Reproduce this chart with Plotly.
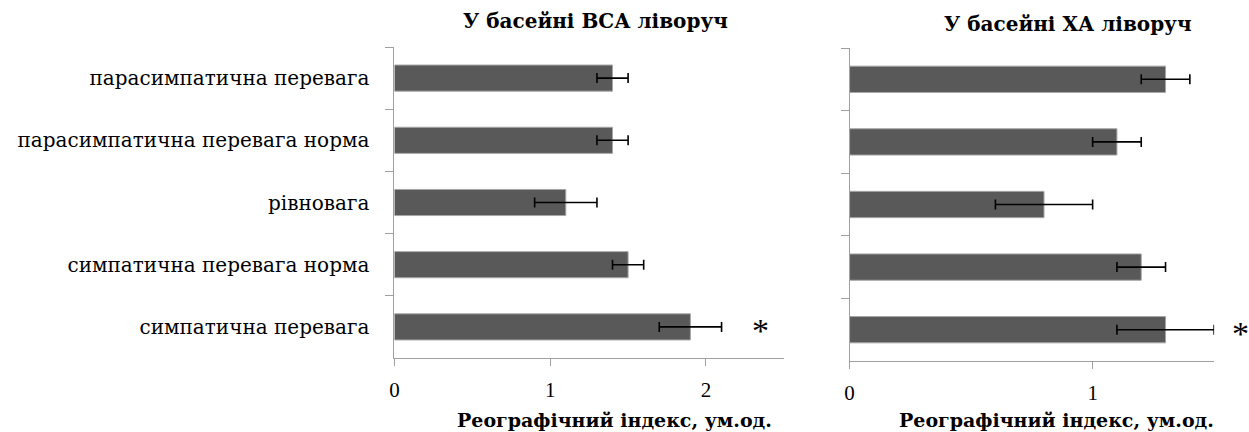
import plotly.graph_objects as go

# Autonomic balance groups, listed top to bottom
categories = [
    "парасимпатична перевага",
    "парасимпатична перевага норма",
    "рівновага",
    "симпатична перевага норма",
    "симпатична перевага",
]

# Rheographic index (arbitrary units) with standard errors
vsa_values = [1.4, 1.4, 1.1, 1.5, 1.9]
vsa_errors = [0.1, 0.1, 0.2, 0.1, 0.2]

xa_values = [1.3, 1.1, 0.8, 1.2, 1.3]
xa_errors = [0.1, 0.1, 0.2, 0.1, 0.2]

titles = ["У басейні ВСА ліворуч", "У басейні ХА ліворуч"]
x_title = "Реографічний індекс, ум.од."
significant = "симпатична перевага"

W, H = 1249, 432
SERIF = "Liberation Serif"
CYR = "DejaVu Serif"
BAR = "#595959"
AXIS = "#a0a0a0"

fig = go.Figure()

for i, (vals, errs) in enumerate([(vsa_values, vsa_errors), (xa_values, xa_errors)]):
    fig.add_trace(go.Bar(
        x=vals, y=categories, orientation="h",
        marker=dict(color=BAR, line=dict(color="#a6a6a6", width=1)),
        error_x=dict(type="data", array=errs, color="black", thickness=1.6, width=5),
        xaxis="x" if i == 0 else "x2", yaxis="y" if i == 0 else "y2",
        showlegend=False, hoverinfo="skip",
    ))

x_common = dict(
    showline=True, linecolor=AXIS, linewidth=1, showgrid=False, zeroline=False,
    ticks="outside", ticklen=7, tickcolor=AXIS, dtick=1, tick0=0,
    tickfont=dict(family=SERIF, size=21, color="black"), ticklabelstandoff=6,
)
y_common = dict(
    showline=True, linecolor=AXIS, linewidth=1, showgrid=False, zeroline=False,
    type="category", categoryorder="array", categoryarray=categories,
    autorange="reversed", ticks="outside", ticklen=8, tickcolor=AXIS,
    tickson="boundaries",
)

fig.update_layout(
    width=W, height=H,
    margin=dict(l=0, r=0, t=0, b=0),
    paper_bgcolor="white", plot_bgcolor="white",
    bargap=0.58,
    xaxis=dict(domain=[391 / W, 782 / W], range=[0, 2.5], anchor="y", **x_common),
    yaxis=dict(domain=[1 - 358 / H, 1 - 47 / H], anchor="x", showticklabels=True,
               tickfont=dict(family=CYR, size=20, color="black"),
               ticklabelstandoff=20, **y_common),
    xaxis2=dict(domain=[848 / W, 1214 / W], range=[0, 1.5], anchor="y2", **x_common),
    yaxis2=dict(domain=[1 - 361 / H, 1 - 48 / H], anchor="x2", showticklabels=False,
                **y_common),
)

annotations = []
# Panel titles
for cx, cy, t in [(593, 21, titles[0]), (1067, 24, titles[1])]:
    annotations.append(dict(
        text=t, x=cx / W, y=1 - cy / H, xref="paper", yref="paper",
        xanchor="center", yanchor="middle", showarrow=False,
        font=dict(family=CYR, size=20, color="black", weight="bold"),
    ))
# Axis titles
for cx in (612, 1056):
    annotations.append(dict(
        text=x_title, x=cx / W, y=1 - 420 / H, xref="paper", yref="paper",
        xanchor="center", yanchor="middle", showarrow=False,
        font=dict(family=CYR, size=19, color="black", weight="bold"),
    ))
# Significance markers beyond the error bars
k = categories.index(significant)
for xr, yr, vals, errs, shift in [("x", "y", vsa_values, vsa_errors, 28),
                                  ("x2", "y2", xa_values, xa_errors, 16)]:
    annotations.append(dict(
        text="*", x=vals[k] + errs[k], y=significant, xref=xr, yref=yr,
        xanchor="left", yanchor="middle", xshift=shift, yshift=-4, showarrow=False,
        font=dict(family=SERIF, size=34, color="black"),
    ))

fig.update_layout(annotations=annotations)

fig.write_html("out.html")
